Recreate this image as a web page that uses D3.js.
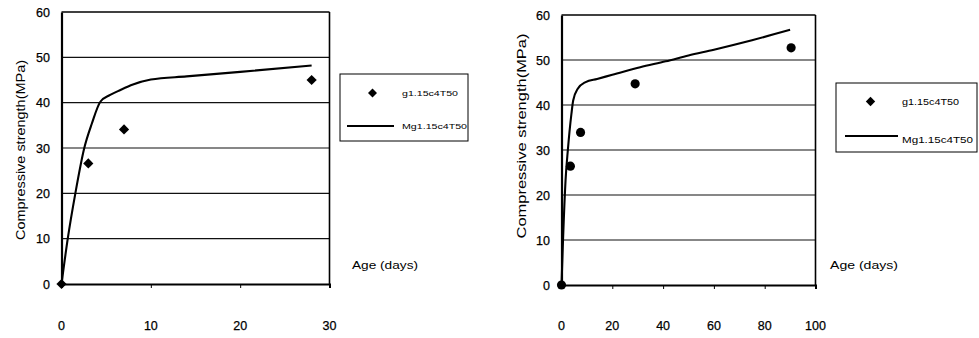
<!DOCTYPE html>
<html>
<head>
<meta charset="utf-8">
<script src="https://cdn.jsdelivr.net/npm/d3@7"></script>
<style>
  html, body { margin: 0; padding: 0; background: #fff; }
  svg { display: block; font-family: "Liberation Sans", Arial, sans-serif; }
</style>
</head>
<body>
<svg id="chart" width="979" height="338"></svg>
<script>
// ---------- data ----------
const yTicks = [0, 10, 20, 30, 40, 50, 60];
const yTitle = "Compressive strength(MPa)";
const xTitle = "Age (days)";
const legendPoints = "g1.15c4T50";
const legendLine = "Mg1.15c4T50";

// left chart (28 days)
const leftXTicks = [0, 10, 20, 30];
const leftTestAge = [0, 3, 7, 28];
const leftTestStrength = [0, 26.6, 34.1, 45.0];
const leftModelAge = [0, 0.7, 1.55, 2.55, 3.4, 4.35, 5.45, 6.6, 8, 10, 14, 20, 28];
const leftModelStrength = [0, 10, 20, 30, 35.4, 40.2, 41.7, 42.8, 44, 45.1, 45.8, 46.8, 48.2];

// right chart (90 days)
const rightXTicks = [0, 20, 40, 60, 80, 100];
const rightTestAge = [0, 3.5, 7.5, 29, 90.4];
const rightTestStrength = [0, 26.4, 33.9, 44.7, 52.7];
const rightModelAge = [0, 0.6, 1.6, 2.5, 3.9, 4.6, 6.4, 9.5, 14, 20, 31, 41, 50, 60, 75, 90];
const rightModelStrength = [0, 10, 23.3, 30, 38, 41, 43.6, 45.1, 45.8, 46.7, 48.4, 49.7, 51, 52.3, 54.4, 56.7];

// ---------- drawing ----------
const svg = d3.select("#chart");

function drawChart(cfg) {
  const x = d3.scaleLinear().domain(cfg.xDomain).range([cfg.x0, cfg.x1]);
  const y = d3.scaleLinear().domain([0, 60]).range([cfg.y0, cfg.y1]);
  const g = svg.append("g");

  // gridlines
  g.selectAll("line.grid").data(yTicks.filter(v => v > 0 && v < 60)).enter()
    .append("line")
    .attr("x1", x(cfg.xDomain[0])).attr("x2", x(cfg.xDomain[1]))
    .attr("y1", d => y(d)).attr("y2", d => y(d))
    .attr("stroke", "#111").attr("stroke-width", 1.1);

  // frame
  g.append("line").attr("x1", x(cfg.xDomain[0])).attr("x2", x(cfg.xDomain[1]))
    .attr("y1", y(60)).attr("y2", y(60)).attr("stroke", "#000").attr("stroke-width", 1.6);
  g.append("line").attr("x1", x(cfg.xDomain[1])).attr("x2", x(cfg.xDomain[1]))
    .attr("y1", y(60)).attr("y2", y(0)).attr("stroke", "#000").attr("stroke-width", 1.6);

  // bottom axis
  const xAxis = d3.axisBottom(x).tickValues(cfg.xTicks).tickSize(4).tickFormat("");
  const gx = g.append("g").attr("transform", `translate(0,${y(0)})`).call(xAxis);
  gx.select(".domain").attr("stroke", "#000").attr("stroke-width", 2);
  gx.selectAll(".tick line").attr("stroke", "#000").attr("stroke-width", 1);

  // x tick labels (placed low, as in the reference)
  g.selectAll("text.xt").data(cfg.xTicks).enter().append("text")
    .attr("x", d => x(d)).attr("y", 329.5)
    .attr("text-anchor", "middle").attr("font-size", 12.5).attr("fill", "#000")
    .attr("stroke", "#000").attr("stroke-width", 0.25)
    .text(d => d);

  // left axis
  const yAxis = d3.axisLeft(y).tickValues(yTicks).tickSize(0).tickPadding(0).tickFormat("");
  const gy = g.append("g").attr("transform", `translate(${x(cfg.xDomain[0])},0)`).call(yAxis);
  gy.select(".domain").attr("stroke", "#000").attr("stroke-width", 2.2);

  g.selectAll("text.yt").data(yTicks).enter().append("text")
    .attr("x", cfg.yLabelX).attr("y", d => y(d) + 4.5)
    .attr("text-anchor", "end").attr("font-size", 12.5).attr("fill", "#000")
    .attr("stroke", "#000").attr("stroke-width", 0.25)
    .text(d => d);

  // y title
  g.append("text")
    .attr("transform", `translate(${cfg.yTitleX},${cfg.yTitleY}) rotate(-90)`)
    .attr("text-anchor", "middle").attr("font-size", 12).attr("fill", "#000")
    .attr("textLength", cfg.yTitleLen).attr("lengthAdjust", "spacingAndGlyphs")
    .text(yTitle);

  // x title
  g.append("text").attr("x", cfg.xTitleX).attr("y", 269)
    .attr("font-size", 11.5).attr("fill", "#000")
    .attr("textLength", cfg.xTitleLen).attr("lengthAdjust", "spacingAndGlyphs")
    .text(xTitle);

  // model line
  const lineData = cfg.modelAge.map((a, i) => [a, cfg.modelStrength[i]]);
  g.append("path").datum(lineData)
    .attr("d", d3.line().x(d => x(d[0])).y(d => y(d[1])).curve(d3.curveMonotoneX))
    .attr("fill", "none").attr("stroke", "#000").attr("stroke-width", 2.1);

  // test points
  const pts = cfg.testAge.map((a, i) => [a, cfg.testStrength[i]]);
  const marker = cfg.round
    ? d3.symbol().type(d3.symbolCircle).size(66)
    : d3.symbol().type(d3.symbolSquare).size(52);
  g.selectAll("path.pt").data(pts).enter().append("path")
    .attr("d", marker)
    .attr("transform", d => `translate(${x(d[0])},${y(d[1])})` + (cfg.round ? "" : " rotate(45)"))
    .attr("fill", "#000");

  // legend
  const L = cfg.legend;
  g.append("rect").attr("x", L.x).attr("y", L.y).attr("width", L.w).attr("height", L.h)
    .attr("fill", "#fff").attr("stroke", "#000").attr("stroke-width", 1);
  g.append("path").attr("d", d3.symbol().type(d3.symbolSquare).size(L.ms))
    .attr("transform", `translate(${L.mx},${L.my}) rotate(45)`).attr("fill", "#000");
  g.append("text").attr("x", L.tx).attr("y", L.my + 3).attr("font-size", L.fs).attr("fill", "#000")
    .attr("textLength", L.t1Len).attr("lengthAdjust", "spacingAndGlyphs")
    .text(legendPoints);
  g.append("line").attr("x1", L.lx0).attr("x2", L.lx1).attr("y1", L.ly).attr("y2", L.ly)
    .attr("stroke", "#000").attr("stroke-width", 2);
  g.append("text").attr("x", L.tx).attr("y", L.ty2).attr("font-size", L.fs).attr("fill", "#000")
    .attr("textLength", L.t2Len).attr("lengthAdjust", "spacingAndGlyphs")
    .text(legendLine);
}

drawChart({
  xDomain: [0, 30], xTicks: leftXTicks,
  x0: 61.5, x1: 329.5, y0: 284, y1: 12,
  yLabelX: 50, yTitleX: 25, yTitleY: 150, yTitleLen: 180,
  xTitleX: 352, xTitleLen: 66,
  testAge: leftTestAge, testStrength: leftTestStrength,
  modelAge: leftModelAge, modelStrength: leftModelStrength,
  round: false,
  legend: { x: 340, y: 74, w: 128, h: 67, mx: 372.5, my: 93, ms: 40, tx: 402, fs: 8,
            t1Len: 56, t2Len: 65, lx0: 347, lx1: 394, ly: 126, ty2: 129 }
});

drawChart({
  xDomain: [0, 100], xTicks: rightXTicks,
  x0: 561.5, x1: 815.5, y0: 285, y1: 15,
  yLabelX: 550, yTitleX: 526, yTitleY: 136, yTitleLen: 205,
  xTitleX: 830, xTitleLen: 68,
  testAge: rightTestAge, testStrength: rightTestStrength,
  modelAge: rightModelAge, modelStrength: rightModelStrength,
  round: true,
  legend: { x: 836, y: 83, w: 141, h: 69, mx: 870.5, my: 101.5, ms: 44, tx: 902, fs: 9,
            t1Len: 57, t2Len: 71, lx0: 845, lx1: 898, ly: 136, ty2: 143 }
});
</script>
</body>
</html>
